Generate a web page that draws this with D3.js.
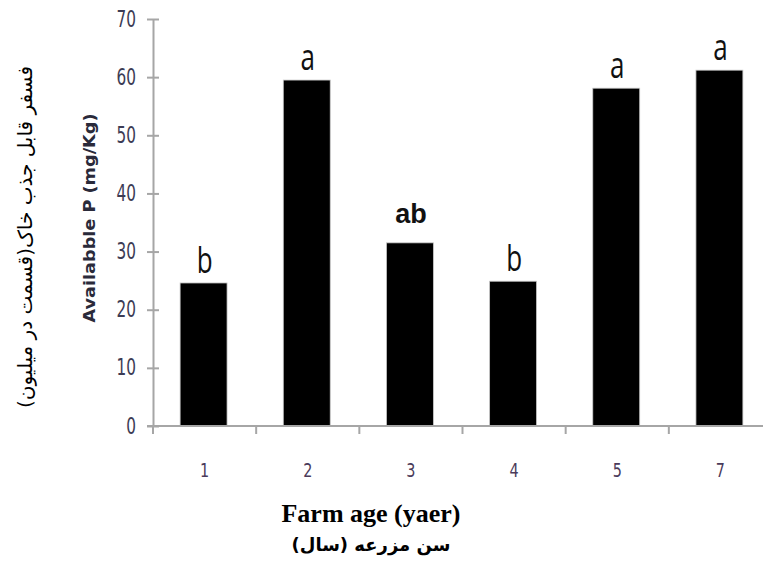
<!DOCTYPE html>
<html>
<head>
<meta charset="utf-8">
<script src="https://cdn.jsdelivr.net/npm/d3@7"></script>
<style>
  body { margin: 0; background: #fff; }
  .axis path, .axis line { stroke: #a6a6a6; }
</style>
</head>
<body>
<script>
const categories = ['1', '2', '3', '4', '5', '7'];
const values = [24.6, 59.5, 31.5, 24.9, 58.1, 61.2];
const letters = ['b', 'a', 'ab', 'b', 'a', 'a'];
const yTicks = [0, 10, 20, 30, 40, 50, 60, 70];

const w = 763;
const h = 564;

const svg = d3.select('body')
  .append('svg')
  .attr('width', w)
  .attr('height', h);

const xScale = d3.scaleBand()
  .domain(categories)
  .range([153, 772])
  .padding(0);

const yScale = d3.scaleLinear()
  .domain([0, 70])
  .range([426, 19]);

// bars
const barW = xScale.bandwidth() * 0.455;
svg.selectAll('rect.bar')
  .data(values)
  .enter()
  .append('rect')
  .attr('class', 'bar')
  .attr('x', (d, i) => xScale(categories[i]) + xScale.bandwidth() / 2 - barW / 2 - 1)
  .attr('y', d => yScale(d))
  .attr('width', barW)
  .attr('height', d => yScale(0) - yScale(d))
  .attr('fill', '#000')
  .attr('stroke', '#c8c8c8')
  .attr('stroke-width', 0.8);

// y axis
const yAxis = d3.axisLeft(yScale)
  .tickValues(yTicks)
  .tickSizeInner(6)
  .tickSizeOuter(0)
  .tickPadding(12);

const gy = svg.append('g')
  .attr('class', 'axis')
  .attr('transform', 'translate(153,0)')
  .call(yAxis);
gy.selectAll('.tick line').attr('x1', 6).attr('x2', -6).attr('stroke-width', 2);
gy.select('.domain').attr('stroke-width', 2);
gy.selectAll('.tick text')
  .attr('font-family', 'Tahoma, "DejaVu Sans Condensed", "DejaVu Sans", sans-serif')
  .attr('font-stretch', 'condensed')
  .attr('font-size', 17)
  .attr('fill', '#3c3c55')
  .attr('x', -17)
  .attr('transform', 'scale(1,1.3)');

// x axis: ticks on band edges
const edges = categories.map(c => xScale(c));
const gx = svg.append('g')
  .attr('class', 'axis')
  .attr('transform', 'translate(0,' + yScale(0) + ')');
gx.append('line')
  .attr('x1', 147).attr('x2', w)
  .attr('y1', 0).attr('y2', 0)
  .attr('stroke-width', 2);
gx.selectAll('line.edge')
  .data(edges)
  .enter()
  .append('line')
  .attr('class', 'edge')
  .attr('x1', d => d).attr('x2', d => d)
  .attr('y1', 0).attr('y2', 8)
  .attr('stroke-width', 2);
gx.selectAll('text')
  .data(categories)
  .enter()
  .append('text')
  .attr('transform', d => 'translate(' + (xScale(d) + xScale.bandwidth() / 2) + ',51) scale(1,1.25)')
  .attr('text-anchor', 'middle')
  .attr('font-family', 'Tahoma, "DejaVu Sans Condensed", "DejaVu Sans", sans-serif')
  .attr('font-stretch', 'condensed')
  .attr('font-size', 16)
  .attr('fill', '#4a3a5a')
  .text(d => d);

// significance letters
svg.selectAll('text.letter')
  .data(letters)
  .enter()
  .append('text')
  .attr('class', 'letter')
  .attr('text-anchor', 'middle')
  .attr('transform', (d, i) => {
    const cx = xScale(categories[i]) + xScale.bandwidth() / 2;
    const top = yScale(values[i]);
    return d === 'ab'
      ? 'translate(' + cx + ',' + (top - 20) + ')'
      : 'translate(' + cx + ',' + (top - 10) + ') scale(1,1.4)';
  })
  .attr('font-family', d => d === 'ab' ? '"Liberation Sans", Arial, sans-serif' : '"Open Sans", sans-serif')
  .attr('font-weight', d => d === 'ab' ? 'bold' : 'normal')
  .attr('font-size', d => d === 'ab' ? 27 : 26)
  .attr('fill', '#111')
  .text(d => d);

// y axis titles
svg.append('text')
  .attr('transform', 'translate(95,218) rotate(-90)')
  .attr('text-anchor', 'middle')
  .attr('font-family', 'Tahoma, "DejaVu Sans", sans-serif')
  .attr('font-weight', 'bold')
  .attr('font-size', 15)
  .attr('textLength', 209)
  .attr('lengthAdjust', 'spacingAndGlyphs')
  .attr('fill', '#2a2a3a')
  .text('Availabble P (mg/Kg)');

svg.append('text')
  .attr('transform', 'translate(32,237) rotate(-90)')
  .attr('text-anchor', 'middle')
  .attr('direction', 'rtl')
  .attr('font-family', '"DejaVu Sans", sans-serif')
  .attr('font-size', 20)
  .attr('fill', '#000')
  .text('فسفر قابل جذب خاک(قسمت در میلیون)');

// x axis titles
svg.append('text')
  .attr('x', 371)
  .attr('y', 522)
  .attr('text-anchor', 'middle')
  .attr('font-family', '"Liberation Serif", "Times New Roman", serif')
  .attr('font-weight', 'bold')
  .attr('font-size', 26)
  .attr('fill', '#000')
  .text('Farm age (yaer)');

svg.append('text')
  .attr('x', 371)
  .attr('y', 551)
  .attr('text-anchor', 'middle')
  .attr('direction', 'rtl')
  .attr('font-family', '"DejaVu Sans", sans-serif')
  .attr('font-weight', 'bold')
  .attr('font-size', 18)
  .attr('fill', '#000')
  .text('سن مزرعه (سال)');
</script>
</body>
</html>
